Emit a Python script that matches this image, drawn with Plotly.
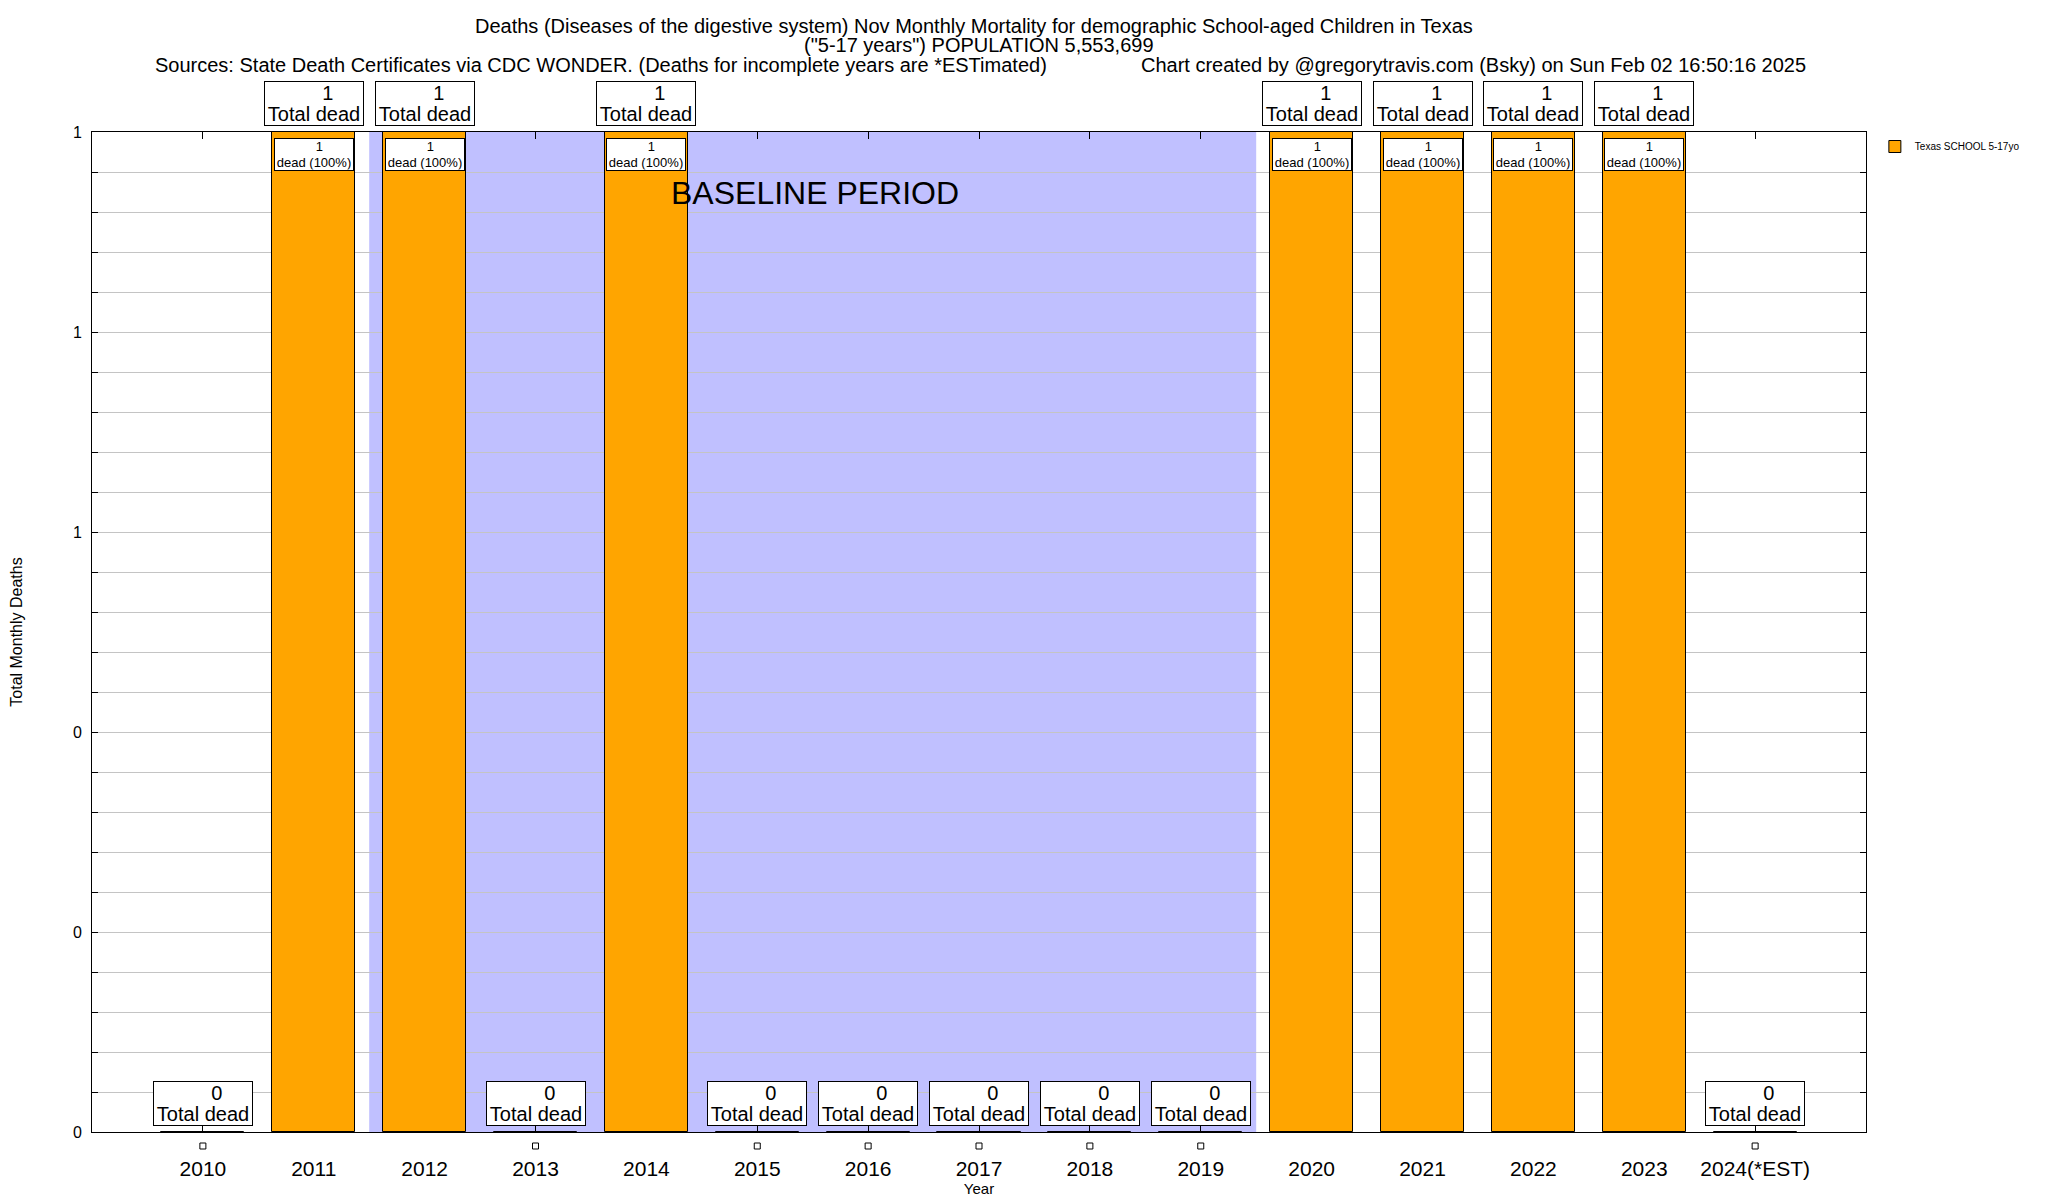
import plotly.graph_objects as go

# data
years = ["2010", "2011", "2012", "2013", "2014", "2015", "2016", "2017",
         "2018", "2019", "2020", "2021", "2022", "2023", "2024(*EST)"]
deaths = [0, 1, 1, 0, 1, 0, 0, 0, 0, 0, 1, 1, 1, 1, 0]
pct_of_total = [0, 100, 100, 0, 100, 0, 0, 0, 0, 0, 100, 100, 100, 100, 0]
baseline_years = ["2012", "2019"]
series_name = "Texas SCHOOL 5-17yo"

title_1 = "Deaths (Diseases of the digestive system) Nov Monthly Mortality for demographic School-aged Children in Texas"
title_2 = '("5-17 years") POPULATION 5,553,699'
sources = "Sources: State Death Certificates via CDC WONDER. (Deaths for incomplete years are *ESTimated)"
credit = "Chart created by @gregorytravis.com (Bsky) on Sun Feb 02 16:50:16 2025"

ORANGE = "#FFA500"
LAVENDER = "#C0C0FF"
GRID = "#C4C4C4"
FONT = "Liberation Sans"
NB = "\u00a0"

# numeric positions for the year slots, labels come from ticktext
xpos = list(range(len(years)))

fig = go.Figure()

fig.add_trace(go.Bar(
    x=xpos, y=deaths, width=0.75, name=series_name,
    marker=dict(color=ORANGE, line=dict(color="black", width=1)),
    hoverinfo="skip",
))

# baseline shading
b0 = years.index(baseline_years[0]) - 0.5
b1 = years.index(baseline_years[1]) + 0.5
fig.add_shape(type="rect", xref="x", yref="paper", x0=b0, x1=b1, y0=0, y1=1,
              fillcolor=LAVENDER, line=dict(width=0), layer="below")
fig.add_annotation(x=4.2, y=0.939, xref="x", yref="y", text="BASELINE PERIOD",
                   showarrow=False, xanchor="left", yanchor="middle",
                   font=dict(size=32, color="black", family=FONT))

# little open squares under the axis for the empty years
for i, d in zip(xpos, deaths):
    if d == 0:
        fig.add_shape(type="rect", xref="x", yref="paper",
                      xsizemode="pixel", xanchor=i, x0=-3, x1=3,
                      ysizemode="pixel", yanchor=0, y0=-17, y1=-11,
                      line=dict(color="black", width=1), fillcolor="white")


def sized(text, size):
    # annotation font stays small so the line spacing is tight like the original
    return f'<span style="font-size:{size}px">{text}</span>'


# boxed labels
for i, d, p in zip(xpos, deaths, pct_of_total):
    fig.add_annotation(x=i, y=d,
                       text=sized(NB * 5 + str(d), 20) + "<br>" + sized("Total dead", 20),
                       showarrow=False, yanchor="bottom", yshift=6, width=98,
                       bgcolor="white", bordercolor="black", borderwidth=1, borderpad=0,
                       font=dict(size=16, color="black", family=FONT))
    if d > 0:
        fig.add_annotation(x=i, y=d,
                           text=sized(NB * 3 + str(d), 13) + "<br>" + sized(f"dead ({p}%)", 13),
                           showarrow=False, yanchor="top", yshift=-6, width=78,
                           bgcolor="white", bordercolor="black", borderwidth=1, borderpad=0,
                           font=dict(size=12, color="black", family=FONT))

# titles
fig.add_annotation(x=0.497, y=1.106, xref="paper", yref="paper", text=title_1,
                   showarrow=False, xanchor="center", yanchor="middle",
                   font=dict(size=20, color="black", family=FONT))
fig.add_annotation(x=0.5, y=1.087, xref="paper", yref="paper", text=title_2,
                   showarrow=False, xanchor="center", yanchor="middle",
                   font=dict(size=20, color="black", family=FONT))
fig.add_annotation(x=0.0344, y=1.067, xref="paper", yref="paper", text=sources,
                   showarrow=False, xanchor="left", yanchor="middle",
                   font=dict(size=20, color="black", family=FONT))
fig.add_annotation(x=0.590, y=1.067, xref="paper", yref="paper", text=credit,
                   showarrow=False, xanchor="left", yanchor="middle",
                   font=dict(size=20, color="black", family=FONT))

# page body has an 8px margin, so the figure is 8px smaller and shifted
fig.update_layout(
    width=2040, height=1192,
    margin=dict(l=84, r=182, t=124, b=68, autoexpand=False),
    paper_bgcolor="white", plot_bgcolor="white",
    font=dict(family=FONT, color="black"),
    bargap=0,
    showlegend=True,
    legend=dict(x=1.005, y=1.0, xanchor="left", yanchor="top",
                font=dict(size=10, family=FONT), bgcolor="rgba(0,0,0,0)",
                itemwidth=30),
)

fig.update_xaxes(
    range=[-1, 15], tickmode="array", tickvals=xpos, ticktext=years,
    showline=True, linecolor="black", linewidth=1, mirror="ticks",
    ticks="inside", ticklen=7, tickcolor="black",
    showgrid=False, zeroline=False, layer="below traces",
    tickfont=dict(size=21, family=FONT), ticklabelstandoff=18,
    title=dict(text="Year", font=dict(size=15, family=FONT), standoff=0),
)
fig.update_yaxes(
    range=[0, 1], dtick=0.2, tickformat=".0f",
    showline=True, linecolor="black", linewidth=1, mirror="ticks",
    ticks="inside", ticklen=6, tickcolor="black",
    showgrid=True, gridcolor=GRID, gridwidth=1, zeroline=False,
    minor=dict(dtick=0.04, showgrid=True, gridcolor=GRID, ticks="inside",
               ticklen=6, tickcolor="black"),
    layer="below traces",
    tickfont=dict(size=16, family=FONT), ticklabelstandoff=6,
    title=dict(text="Total Monthly Deaths", font=dict(size=16, family=FONT), standoff=46),
)

fig.write_html("out.html")
